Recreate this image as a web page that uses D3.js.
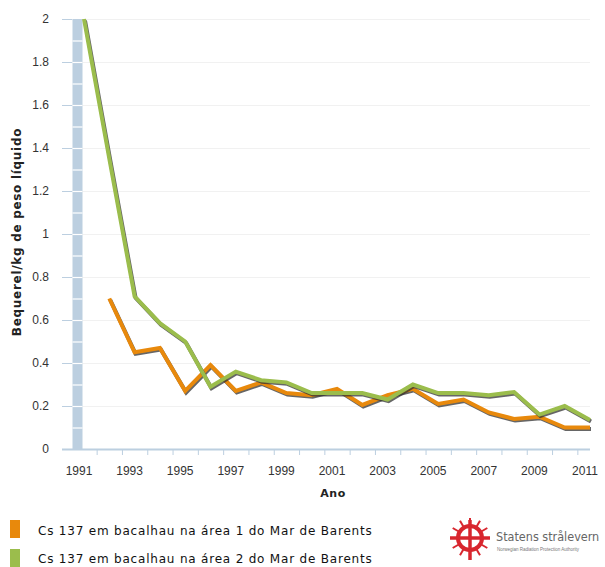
<!DOCTYPE html>
<html>
<head>
<meta charset="utf-8">
<script src="https://cdn.jsdelivr.net/npm/d3@7"></script>
<style>
  body { margin: 0; background: #fff; }
  svg { display: block; }
  .tick text { font-family: Arial, "Liberation Sans", sans-serif; font-size: 12px; fill: #333; }
</style>
</head>
<body>
<svg id="chart" width="605" height="567"></svg>
<script>
const years = d3.range(1991, 2012);
const area1 = [null, 0.70, 0.45, 0.47, 0.27, 0.39, 0.27, 0.31, 0.26, 0.25, 0.28,
               0.205, 0.25, 0.28, 0.21, 0.23, 0.17, 0.14, 0.15, 0.10, 0.10];
const area2 = [2.0, 1.35, 0.71, 0.585, 0.50, 0.29, 0.36, 0.32, 0.31, 0.26, 0.26,
               0.26, 0.23, 0.30, 0.26, 0.26, 0.25, 0.265, 0.16, 0.20, 0.135];
const yTicks = [0, 0.2, 0.4, 0.6, 0.8, 1, 1.2, 1.4, 1.6, 1.8, 2];
const labelYears = [1991, 1993, 1995, 1997, 1999, 2001, 2003, 2005, 2007, 2009, 2011];
const seriesNames = ["Cs 137 em bacalhau na área 1 do Mar de Barents",
                     "Cs 137 em bacalhau na área 2 do Mar de Barents"];
const colors = ["#e8890c", "#9bbd4c"];

const svg = d3.select("#chart");
const plotLeft = 72, plotRight = 590, plotTop = 19, plotBottom = 449;

const x = d3.scaleLinear().domain([1991, 2011]).range([84, 590]);
const y = d3.scaleLinear().domain([0, 2]).range([plotBottom, plotTop]);

// light grid
svg.append("g")
  .selectAll("line")
  .data(yTicks)
  .join("line")
  .attr("x1", plotLeft).attr("x2", plotRight)
  .attr("y1", d => y(d) + 0.5).attr("y2", d => y(d) + 0.5)
  .attr("stroke", "#f1f1f1");

// blue column at 1991 with white separators every 0.1
const bar = svg.append("g");
bar.append("rect")
  .attr("x", 72.5).attr("width", 10)
  .attr("y", y(2)).attr("height", y(0) - y(2))
  .attr("fill", "#bccfe0");
bar.selectAll("line")
  .data(d3.range(1, 20).map(i => i / 10))
  .join("line")
  .attr("x1", 72.5).attr("x2", 82.5)
  .attr("y1", d => y(d) + 0.5).attr("y2", d => y(d) + 0.5)
  .attr("stroke", "#fff").attr("stroke-width", 1.2);

// y axis
const yAxis = d3.axisLeft(y).tickValues(yTicks).tickSize(10).tickPadding(13)
  .tickFormat(d => d3.format("~g")(d));
svg.append("g")
  .attr("transform", `translate(${plotLeft},0)`)
  .call(yAxis)
  .call(g => g.select(".domain").remove())
  .call(g => g.selectAll(".tick line").attr("stroke", "#bccfe0"));

// x axis: ticks between years, labels on odd years
const halfYears = years.slice(0, -1).map(d => d + 0.5);
const xAxis = d3.axisBottom(x).tickValues(halfYears).tickSize(6).tickFormat("");
svg.append("g")
  .attr("transform", `translate(0,${plotBottom})`)
  .call(xAxis)
  .call(g => g.select(".domain").remove())
  .call(g => g.selectAll(".tick line").attr("stroke", "#bccfe0"));
svg.append("line")
  .attr("x1", 62).attr("x2", plotRight)
  .attr("y1", plotBottom + 0.5).attr("y2", plotBottom + 0.5)
  .attr("stroke", "#bccfe0").attr("stroke-width", 2);
svg.append("g")
  .selectAll("text")
  .data(labelYears)
  .join("text")
  .attr("x", d => x(d) - 5)
  .attr("y", 475)
  .attr("text-anchor", "middle")
  .style("font-family", "Arial, 'Liberation Sans', sans-serif")
  .style("font-size", "12px")
  .attr("fill", "#333")
  .text(d => d);

// axis titles
svg.append("text")
  .attr("transform", "translate(21,232) rotate(-90)")
  .attr("text-anchor", "middle")
  .style("font-family", "Verdana, 'DejaVu Sans', sans-serif")
  .style("font-size", "12px").style("font-weight", "bold")
  .style("letter-spacing", "0.7px")
  .attr("fill", "#222")
  .text("Bequerel/kg de peso líquido");
svg.append("text")
  .attr("x", 333).attr("y", 497)
  .attr("text-anchor", "middle")
  .style("font-family", "Verdana, 'DejaVu Sans', sans-serif")
  .style("font-size", "11px").style("font-weight", "bold")
  .style("letter-spacing", "0.5px")
  .attr("fill", "#222")
  .text("Ano");

// lines
const line = d3.line()
  .defined(d => d[1] != null)
  .x(d => x(d[0]))
  .y(d => y(d[1]));
[area1, area2].forEach((vals, i) => {
  const pts = years.map((yr, j) => [yr, vals[j]]);
  svg.append("path")
    .attr("d", line(pts))
    .attr("transform", "translate(1,1.5)")
    .attr("fill", "none")
    .attr("stroke", "#333")
    .attr("stroke-opacity", 0.75)
    .attr("stroke-width", 4)
    .attr("stroke-linejoin", "miter");
  svg.append("path")
    .attr("d", line(pts))
    .attr("fill", "none")
    .attr("stroke", colors[i])
    .attr("stroke-width", 4)
    .attr("stroke-linejoin", "miter");
});

// legend
const legend = svg.append("g");
seriesNames.forEach((name, i) => {
  legend.append("rect")
    .attr("x", 10).attr("y", 520 + i * 29)
    .attr("width", 10).attr("height", 18)
    .attr("fill", colors[i]);
  legend.append("text")
    .attr("x", 38).attr("y", 535 + i * 28)
    .style("font-family", "Verdana, 'DejaVu Sans', sans-serif")
    .style("font-size", "12px")
    .style("letter-spacing", "0.8px")
    .attr("fill", "#111")
    .text(name);
});

// logo
const logo = svg.append("g").attr("transform", "translate(470,538)");
logo.append("circle").attr("r", 12).attr("fill", "none")
  .attr("stroke", "#d8262e").attr("stroke-width", 4);
logo.append("line").attr("x1", -20).attr("x2", 20).attr("stroke", "#d8262e").attr("stroke-width", 3.5);
logo.append("line").attr("y1", -18).attr("y2", 22).attr("stroke", "#d8262e").attr("stroke-width", 3.5);
d3.range(0, 360, 30).forEach(a => {
  const r = a * Math.PI / 180;
  logo.append("line")
    .attr("x1", Math.cos(r) * 13).attr("y1", Math.sin(r) * 13)
    .attr("x2", Math.cos(r) * 20).attr("y2", Math.sin(r) * 20)
    .attr("stroke", "#d8262e").attr("stroke-width", 2);
});
svg.append("text")
  .attr("x", 496).attr("y", 541)
  .style("font-family", "'DejaVu Sans Condensed', 'Liberation Sans Narrow', sans-serif")
  .style("font-size", "12.5px")
  .attr("fill", "#666")
  .text("Statens strålevern");
svg.append("text")
  .attr("x", 497).attr("y", 551)
  .style("font-family", "Arial, 'Liberation Sans', sans-serif")
  .style("font-size", "4.5px")
  .attr("fill", "#777")
  .text("Norwegian Radiation Protection Authority");
</script>
</body>
</html>
